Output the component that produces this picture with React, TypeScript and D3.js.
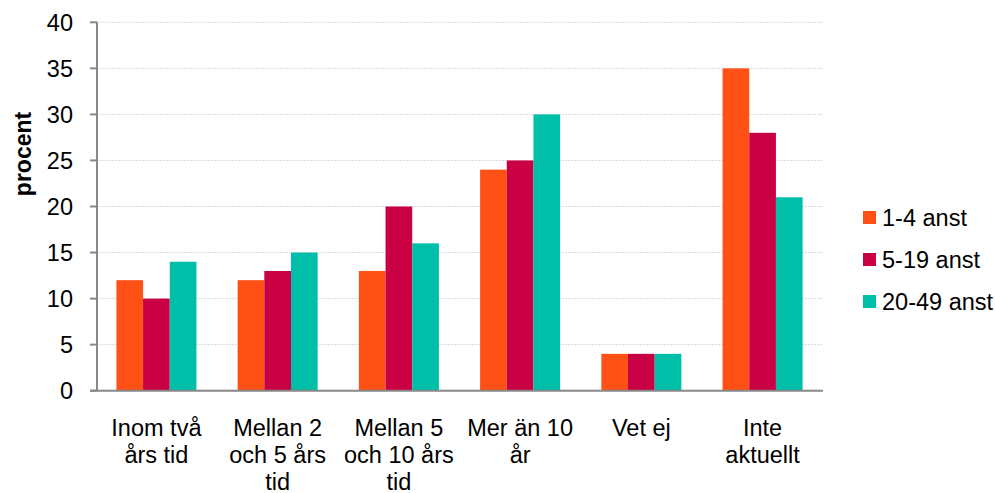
import React from "react";
import * as d3 from "d3";

const categories = [
  ["Inom två", "års tid"],
  ["Mellan 2", "och 5 års", "tid"],
  ["Mellan 5", "och 10 års", "tid"],
  ["Mer än 10", "år"],
  ["Vet ej"],
  ["Inte", "aktuellt"],
];
const seriesNames = ["1-4 anst", "5-19 anst", "20-49 anst"];
const s1 = [12, 12, 13, 24, 4, 35];
const s2 = [10, 13, 20, 25, 4, 28];
const s3 = [14, 15, 16, 30, 4, 21];
const colors = ["#FF5115", "#C90044", "#00BFA8"];
const yTicks = [0, 5, 10, 15, 20, 25, 30, 35, 40];

export default function App() {
  const W = 995, H = 493;
  const left = 97, right = 822, top = 22.3, bottom = 390.7;
  const font = "Liberation Sans, Arial, sans-serif";
  const fs = 23.5;
  const series = [s1, s2, s3];
  const x0 = d3.scaleBand<number>().domain(d3.range(categories.length)).range([left, right]).paddingInner(0.34).paddingOuter(0.16);
  const x1 = d3.scaleBand<number>().domain([0, 1, 2]).range([0, x0.bandwidth()]);
  const y = d3.scaleLinear().domain([0, 40]).range([bottom, top]);
  return (
    <svg width={W} height={H} style={{ position: "absolute", left: 0, top: 0 }} fontFamily={font}>
      {yTicks.map((t) => (
        <g key={t}>
          {t > 0 && (
            <line x1={left} x2={right} y1={y(t)} y2={y(t)} stroke="#d9d9d9" strokeWidth={1} strokeDasharray="2,1" />
          )}
          <line x1={90} x2={left} y1={y(t)} y2={y(t)} stroke="#888" strokeWidth={2} />
          <text x={73} y={y(t)} dy="0.36em" textAnchor="end" fontSize={fs} fill="#000">
            {t}
          </text>
        </g>
      ))}
      {series.map((vals, si) =>
        vals.map((v, ci) => (
          <rect
            key={`${si}-${ci}`}
            x={(x0(ci) as number) + (x1(si) as number)}
            y={y(v)}
            width={x1.bandwidth()}
            height={bottom - y(v)}
            fill={colors[si]}
          />
        ))
      )}
      <line x1={left} x2={left} y1={top} y2={bottom} stroke="#888" strokeWidth={2} />
      <line x1={90} x2={right + 1} y1={bottom} y2={bottom} stroke="#888" strokeWidth={2} />
      {categories.map((lines, ci) => (
        <text key={ci} textAnchor="middle" fontSize={fs} fill="#000">
          {lines.map((ln, li) => (
            <tspan key={li} x={(x0(ci) as number) + x0.bandwidth() / 2} y={436 + li * 27}>
              {ln}
            </tspan>
          ))}
        </text>
      ))}
      <text transform={`translate(31,154) rotate(-90)`} textAnchor="middle" fontSize={23} fontWeight="bold" fill="#000">
        procent
      </text>
      {seriesNames.map((n, i) => (
        <g key={n} transform={`translate(863,${211 + i * 42})`}>
          <rect x={0} y={0} width={13} height={13} fill={colors[i]} />
          <text x={19} y={6.5} dy="0.36em" fontSize={fs} fill="#000">
            {n}
          </text>
        </g>
      ))}
    </svg>
  );
}
